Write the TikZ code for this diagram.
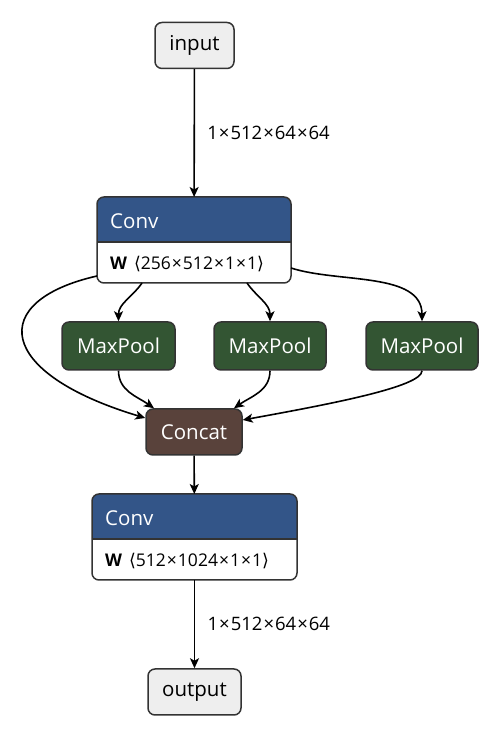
\documentclass[tikz,border=0pt]{standalone}
\usepackage{fontspec}
\setmainfont{Open Sans}
\newfontfamily\bracketfont{DejaVu Sans}
\usepackage{tikz}
\usetikzlibrary{arrows.meta, positioning}

\definecolor{convblue}{RGB}{51,85,136}
\definecolor{poolgreen}{RGB}{51,85,51}
\definecolor{catbrown}{RGB}{89,66,59}
\definecolor{edgegray}{RGB}{51,51,51}
\definecolor{iofill}{RGB}{238,238,238}

\newcommand{\bytimes}{\kern1pt×\kern1pt}

\tikzset{
  op/.style={draw=edgegray, line width=1.5pt, rounded corners=7pt, text=white,
    font=\fontsize{20.5}{24}\selectfont, minimum height=48pt, inner xsep=8pt},
  io/.style={op, fill=iofill, text=black, minimum height=46pt},
  convbox/.style={minimum height=86pt, outer sep=0pt, inner sep=0pt},
  headtext/.style={anchor=west, text=white, font=\fontsize{20.5}{24}\selectfont, inner sep=0pt},
  attrtext/.style={anchor=west, font=\fontsize{17.5}{20}\selectfont, inner sep=0pt},
  dimlabel/.style={font=\fontsize{18.5}{21}\selectfont},
  flow/.style={line width=1.6pt, -{Stealth[length=10pt, width=9pt, inset=2.5pt]}},
}

\begin{document}
\begin{tikzpicture}[x=1pt, y=1pt]
  \useasboundingbox (0,0) rectangle (502,738);
  % input / output
  \node[io, minimum width=79pt] (input) at (194.5,692.5) {input};
  \node[io, minimum width=93pt] (output) at (194.5,46) {output};
  % the two convolutions: blue header, white weight row
  \node[convbox, minimum width=194pt] (conv1) at (194,498) {};
  \node[convbox, minimum width=205pt] (conv2) at (194.5,201) {};
  \foreach \c in {conv1, conv2} {
    \begin{scope}
      \clip[rounded corners=7pt] (\c.south west) rectangle (\c.north east);
      \fill[white] (\c.south west) rectangle (\c.north east);
      \fill[convblue] ([yshift=-45pt]\c.north west) rectangle (\c.north east);
    \end{scope}
    \draw[edgegray, line width=1.5pt] ([yshift=-45pt]\c.north west) -- ([yshift=-45pt]\c.north east);
    \draw[edgegray, line width=1.5pt, rounded corners=7pt] (\c.south west) rectangle (\c.north east);
    \node[headtext] (\c-type) at ([xshift=13pt, yshift=-24pt]\c.north west) {Conv};
  }
  \node[attrtext] (conv1-w) at ([xshift=13pt, yshift=-67pt]conv1.north west)
    {\textbf{W}\hspace{7pt}{\bracketfont ⟨}256\bytimes512\bytimes1\bytimes1{\bracketfont ⟩}};
  \node[attrtext] (conv2-w) at ([xshift=13pt, yshift=-67pt]conv2.north west)
    {\textbf{W}\hspace{7pt}{\bracketfont ⟨}512\bytimes1024\bytimes1\bytimes1{\bracketfont ⟩}};
  % pooling branches
  \node[op, fill=poolgreen, minimum width=113pt] (pool1) at (118.5,392) {MaxPool};
  \node[op, fill=poolgreen, minimum width=112pt] (pool2) at (270,392) {MaxPool};
  \node[op, fill=poolgreen, minimum width=112pt] (pool3) at (422,392) {MaxPool};
  \node[op, fill=catbrown, minimum width=96pt, minimum height=46pt] (concat) at (194,306) {Concat};
  % edges
  \draw[flow] (input) -- (conv1)
    node[midway, right=9pt, dimlabel] (dim1) {1\bytimes512\bytimes64\bytimes64};
  \draw[flow] ([xshift=-52pt]conv1.south) to[out=-125, in=90] (pool1.north);
  \draw[flow] ([xshift=53pt]conv1.south) to[out=-55, in=90] (pool2.north);
  \draw[flow] ([yshift=-28pt]conv1.east) to[out=-18, in=90, looseness=0.9] (pool3.north);
  \draw[flow] ([yshift=-36pt]conv1.west)
    .. controls +(-110,-25) and +(-150,45) .. ([yshift=14pt]concat.west);
  \draw[flow] (pool1.south) to[out=-90, in=145] ([xshift=-40pt]concat.north);
  \draw[flow] (pool2.south) to[out=-90, in=35] ([xshift=40pt]concat.north);
  \draw[flow] (pool3.south) .. controls +(0,-16) and +(88,16) .. ([yshift=12pt]concat.east);
  \draw[flow] (concat) -- (conv2);
  \draw[flow] (conv2) -- (output)
    node[midway, right=9pt, dimlabel] (dim2) {1\bytimes512\bytimes64\bytimes64};
\end{tikzpicture}
\end{document}
